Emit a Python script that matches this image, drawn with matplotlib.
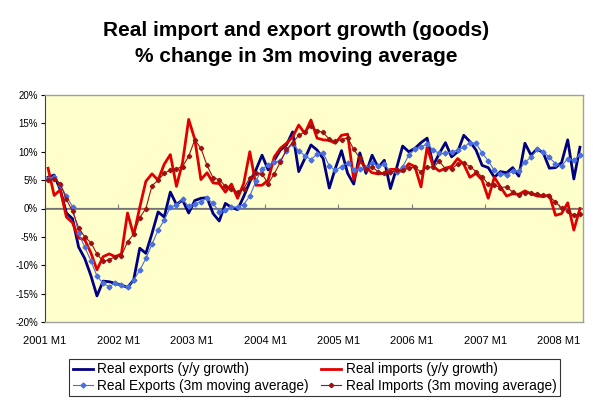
import matplotlib
matplotlib.use("Agg")
import matplotlib.pyplot as plt
import numpy as np

plt.rcParams['font.family'] = ['Liberation Sans', 'DejaVu Sans']

year_labels = ["2001 M1", "2002 M1", "2003 M1", "2004 M1", "2005 M1", "2006 M1", "2007 M1", "2008 M1"]

exports_yy = [5.5, 5.9, 3.3, -0.8, -1.8, -6.8, -8.8, -11.8, -15.4, -12.8, -12.9, -13.2,
              -13.5, -13.9, -12.6, -7.0, -7.9, -4.4, -0.6, -1.5, 2.9, 0.7, 1.5, -0.8,
              1.4, 1.8, 1.9, -0.9, -2.2, 0.9, 0.2, -0.2, 2.1, 4.7, 6.8, 9.4,
              6.8, 8.5, 10.3, 11.2, 13.5, 6.5, 8.8, 11.2, 10.3, 8.8, 3.6, 7.1,
              10.2, 6.2, 4.3, 9.8, 6.2, 9.4, 7.2, 8.5, 3.5, 7.1, 11.0, 10.0,
              10.6, 11.6, 12.4, 7.6, 9.7, 11.6, 9.1, 10.0, 12.9, 11.8, 10.3, 7.6,
              7.2, 5.5, 6.5, 6.3, 7.2, 5.7, 11.5, 9.4, 10.5, 9.8, 7.1, 7.2,
              8.1, 12.1, 5.2, 10.8]

imports_yy = [7.1, 2.3, 3.3, -1.5, -2.5, -5.2, -5.5, -7.8, -10.8, -8.5, -8.0, -8.5,
              -8.0, -0.8, -4.7, 0.2, 4.8, 6.1, 5.0, 7.8, 9.5, 3.9, 8.1, 15.7,
              12.2, 5.1, 6.3, 4.5, 4.4, 2.9, 4.3, 1.8, 4.4, 10.0, 4.1, 4.1,
              5.0, 9.1, 10.6, 11.5, 12.6, 14.7, 13.2, 15.6, 12.4, 12.1, 12.0, 11.5,
              12.9, 13.1, 5.1, 8.4, 7.2, 6.3, 6.1, 6.2, 6.9, 6.9, 6.5, 7.9,
              7.4, 3.8, 10.8, 7.4, 6.6, 7.1, 7.4, 8.8, 7.8, 5.5, 6.2, 5.0,
              1.8, 5.5, 3.8, 2.2, 2.6, 2.5, 3.1, 2.6, 2.2, 2.1, 2.4, -1.2,
              -0.9, 1.0, -3.8, 0.0]

exports_ma = [5.2, 5.6, 4.1, 2.2, 0.3, -4.4, -6.8, -9.2, -11.9, -13.2, -13.8, -13.1,
              -13.5, -13.9, -12.6, -10.9, -8.8, -6.3, -3.8, -2.1, 0.3, 0.6, 1.6, 0.4,
              0.8, 1.2, 1.8, 0.9, -0.6, -0.3, 0.2, 0.3, 0.7, 2.2, 4.8, 7.0,
              7.6, 8.2, 8.4, 10.2, 11.4, 10.2, 9.3, 8.6, 9.6, 9.8, 7.5, 6.7,
              7.4, 8.0, 6.8, 7.0, 7.2, 8.0, 7.5, 7.8, 6.5, 6.5, 7.3, 9.4,
              10.4, 10.8, 11.4, 10.3, 9.7, 9.7, 10.0, 10.3, 10.8, 11.6, 11.5, 9.8,
              8.4, 6.7, 6.0, 5.9, 6.6, 6.6, 8.2, 9.0, 10.4, 10.0, 9.0, 7.9,
              7.5, 8.8, 8.5, 9.4]

imports_ma = [5.0, 5.2, 4.4, 1.6, -0.5, -3.4, -5.0, -6.0, -8.0, -9.3, -9.0, -8.5,
              -8.3, -5.9, -4.5, -1.6, 0.0, 4.0, 5.0, 6.2, 6.8, 7.0, 7.4, 9.2,
              12.1, 10.6, 7.6, 5.4, 5.1, 3.9, 3.5, 2.9, 3.5, 5.4, 6.2, 6.1,
              4.4, 6.1, 8.2, 10.4, 11.6, 12.9, 13.5, 14.5, 13.7, 13.4, 12.2, 11.9,
              12.1, 12.5, 10.4, 8.9, 6.9, 7.3, 6.5, 6.2, 6.4, 6.7, 6.8, 7.1,
              7.3, 6.4, 7.3, 7.3, 8.3, 7.0, 7.0, 7.8, 8.0, 7.4, 6.5, 5.6,
              4.3, 4.1, 3.7, 3.8, 2.9, 2.4, 2.7, 2.7, 2.6, 2.3, 2.2, 1.1,
              0.1, -0.4, -1.2, -0.9]

n = len(exports_yy)
x = np.arange(n)

fig = plt.figure(figsize=(5.93, 4.05), dpi=100)
ax = fig.add_axes([45/593, 1-322/405, (583-45)/593, (322-95)/405])
ax.set_facecolor('#FFFFCC')

l1, = ax.plot(x, exports_yy, color='#000080', lw=2.0, label='Real exports (y/y growth)', zorder=3)
l2, = ax.plot(x, imports_yy, color='#E00000', lw=2.0, label='Real imports (y/y growth)', zorder=3)
l3, = ax.plot(x, exports_ma, color='#4A6FE0', lw=0.8, marker='D', ms=2.5,
              label='Real Exports (3m moving average)', zorder=4)
l4, = ax.plot(x, imports_ma, color='#A01010', lw=0.8, marker='P', ms=2.8,
              label='Real Imports (3m moving average)', zorder=4)

ax.set_xlim(-0.5, n - 0.5)
ax.set_ylim(-20, 20)
ax.set_yticks(np.arange(-20, 21, 5))
ax.set_yticklabels([f"{v}%" for v in range(-20, 21, 5)], fontsize=7)
ax.tick_params(axis='y', direction='out', length=3, width=0.8, pad=2)

year_pos = np.arange(len(year_labels)) * 12 - 0.5
ax.set_xticks(year_pos)
ax.set_xticklabels(year_labels, fontsize=8)
ax.tick_params(axis='x', length=0, pad=10)

for s in ['top', 'right', 'bottom']:
    ax.spines[s].set_color('#A0A0A0')
    ax.spines[s].set_linewidth(1.0)
ax.spines['left'].set_color('#404040')
ax.spines['left'].set_linewidth(0.8)

ax.axhline(0, color='#808080', lw=1.3, zorder=2)
sec = ax.secondary_xaxis(0.5)
sec.set_xticks(year_pos)
sec.set_xticklabels([])
sec.tick_params(axis='x', direction='out', length=3, width=0.8, color='#808080')
sec.spines['bottom'].set_visible(False)

fig.text(0.5, 1-31/405, 'Real import and export growth (goods)', ha='center', va='center',
         fontsize=15, fontweight='bold')
fig.text(0.5, 1-56/405, '% change in 3m moving average', ha='center', va='center',
         fontsize=15, fontweight='bold')

leg = fig.legend(handles=[l1, l3, l2, l4], ncol=2, loc='center',
                 bbox_to_anchor=(314.5/593, 1-377.5/405), fontsize=9.8,
                 frameon=True, fancybox=False, edgecolor='black',
                 handlelength=1.5, handletextpad=0.3, columnspacing=0.9,
                 borderpad=0.25, labelspacing=0.15)
leg.get_frame().set_linewidth(0.8)

fig.savefig('out.png', dpi=100)
